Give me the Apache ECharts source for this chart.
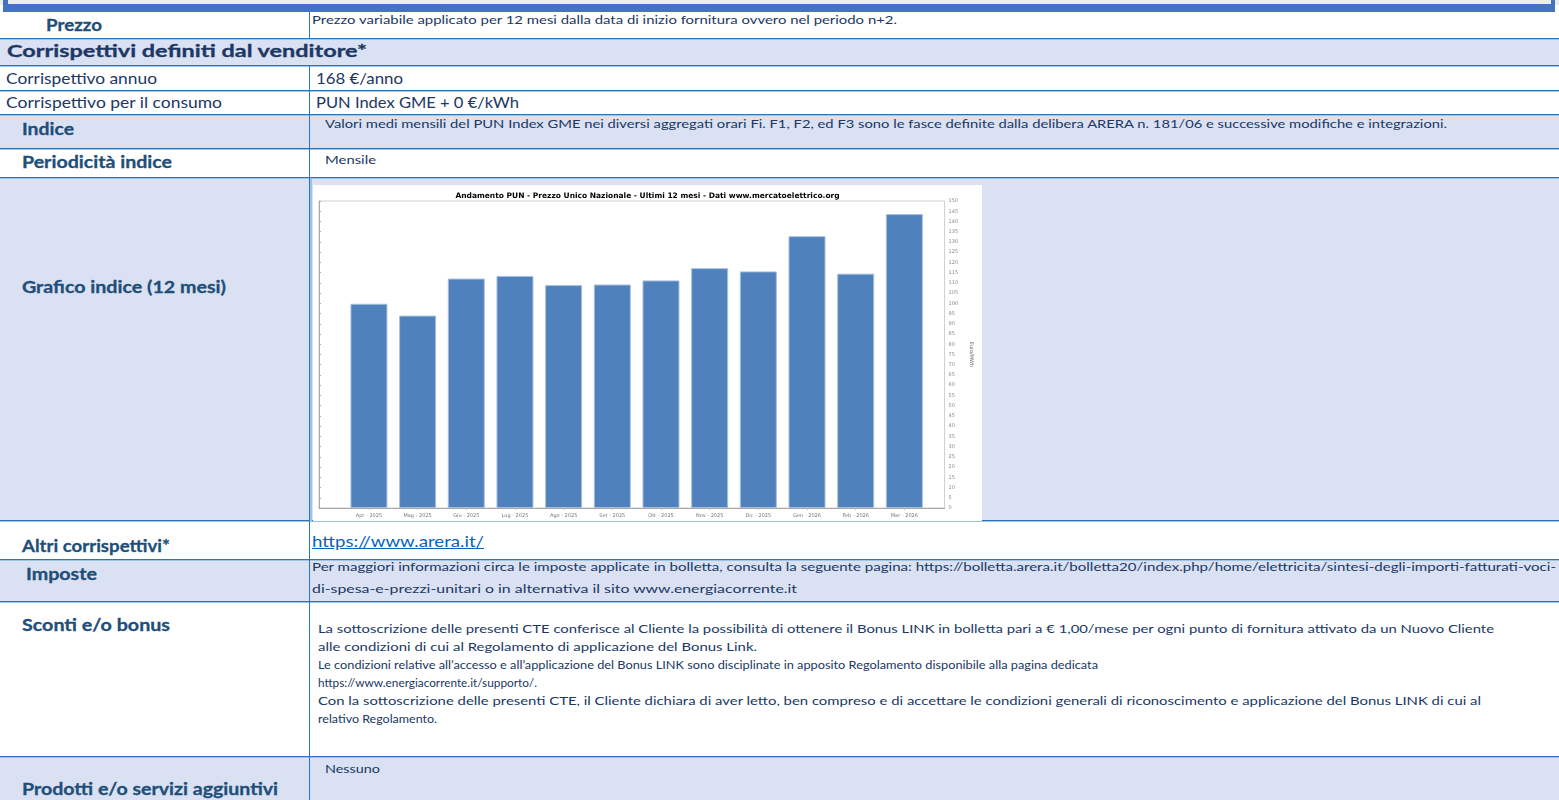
<!DOCTYPE html>
<html><head><meta charset="utf-8">
<script src="https://cdn.jsdelivr.net/npm/echarts@6/dist/echarts.min.js"></script>
<style>
html,body{margin:0;padding:0;width:1559px;height:800px;overflow:hidden;background:#fff;font-family:Lato,'Open Sans',sans-serif;}
.r{position:absolute;}
.t{position:absolute;white-space:nowrap;transform-origin:0 50%;line-height:1;display:inline-block;}
</style></head><body>
<div id="page"></div>
<div id="chart" style="position:absolute;left:313px;top:185px;width:669px;height:336px;background:#fff;"></div>
<script>
// ---- chart data ----
const months = ['Apr - 2025','Mag - 2025','Giu - 2025','Lug - 2025','Ago - 2025','Set - 2025','Ott - 2025','Nov - 2025','Dic - 2025','Gen - 2026','Feb - 2026','Mar - 2026'];
const punValues = [99.8, 94.0, 112.1, 113.4, 108.9, 109.2, 111.2, 117.2, 115.6, 132.8, 114.5, 143.6];
const yMin = 0, yMax = 150, yStep = 5;
const chartTitle = 'Andamento PUN - Prezzo Unico Nazionale - Ultimi 12 mesi - Dati www.mercatoelettrico.org';
const yName = 'Euro/MWh';

// ---- table texts ----
const LBL = '#1f4e79', NAV = '#203764';
const texts = [
  ['Prezzo', 46, 26, 56, 17, 700, LBL],
  ['Prezzo variabile applicato per 12 mesi dalla data di inizio fornitura ovvero nel periodo n+2.', 312, 21, 585, 12, 400, NAV],
  ['Corrispettivi definiti dal venditore*', 7, 52, 360, 17, 700, NAV],
  ['Corrispettivo annuo', 6, 80, 151, 15, 400, NAV],
  ['168 €/anno', 316, 80, 87, 15, 400, NAV],
  ['Corrispettivo per il consumo', 6, 104, 216, 15, 400, NAV],
  ['PUN Index GME + 0 €/kWh', 316, 104, 203, 15, 400, NAV],
  ['Indice', 22, 130, 52, 17, 700, LBL],
  ['Valori medi mensili del PUN Index GME nei diversi aggregati orari Fi. F1, F2, ed F3 sono le fasce definite dalla delibera ARERA n. 181/06 e successive modifiche e integrazioni.', 325, 125, 1122, 12, 400, NAV],
  ['Periodicità indice', 22, 163, 150, 17, 700, LBL],
  ['Mensile', 325, 161, 51, 12, 400, NAV],
  ['Grafico indice (12 mesi)', 22, 288, 204, 17, 700, LBL],
  ['Altri corrispettivi*', 22, 547, 148, 17, 700, LBL],
  ['https://www.arera.it/', 312, 543, 172, 15, 400, '#0563c1', 'u'],
  ['Imposte', 26, 575, 71, 17, 700, LBL],
  ['Per maggiori informazioni circa le imposte applicate in bolletta, consulta la seguente pagina: https://bolletta.arera.it/bolletta20/index.php/home/elettricita/sintesi-degli-importi-fatturati-voci-', 312, 568, 1244, 12, 400, NAV],
  ['di-spesa-e-prezzi-unitari o in alternativa il sito www.energiacorrente.it', 312, 590, 485, 12, 400, NAV],
  ['Sconti e/o bonus', 22, 626, 148, 17, 700, LBL],
  ['La sottoscrizione delle presenti CTE conferisce al Cliente la possibilità di ottenere il Bonus LINK in bolletta pari a € 1,00/mese per ogni punto di fornitura attivato da un Nuovo Cliente', 318, 630, 1176, 12, 400, NAV],
  ['alle condizioni di cui al Regolamento di applicazione del Bonus Link.', 318, 648, 439, 12, 400, NAV],
  ['Le condizioni relative all’accesso e all’applicazione del Bonus LINK sono disciplinate in apposito Regolamento disponibile alla pagina dedicata', 318, 666, 780, 12, 400, NAV],
  ['https://www.energiacorrente.it/supporto/.', 318, 684, 219, 12, 400, NAV],
  ['Con la sottoscrizione delle presenti CTE, il Cliente dichiara di aver letto, ben compreso e di accettare le condizioni generali di riconoscimento e applicazione del Bonus LINK di cui al', 318, 702, 1163, 12, 400, NAV],
  ['relativo Regolamento.', 318, 720, 119, 12, 400, NAV],
  ['Nessuno', 325, 770, 55, 12, 400, NAV],
  ['Prodotti e/o servizi aggiuntivi', 22, 790, 256, 17, 700, LBL]
];

const page = document.getElementById('page');
function box(x, y, w, h, c) {
  const d = document.createElement('div');
  d.className = 'r';
  d.style.cssText = `left:${x}px;top:${y}px;width:${w}px;height:${h}px;background:${c};`;
  page.appendChild(d);
}
// backgrounds
box(0, 0, 1559, 5, '#ececec');
const LIGHT = '#d9e1f2';
[[39, 66], [116, 149], [179, 521], [561, 602], [758, 800]].forEach(([a, b]) => box(0, a, 1559, b - a, LIGHT));
box(5, 4, 1548, 8, '#4472c4');
box(3, 0, 5, 12, '#4472c4');
box(1551, 0, 4, 12, '#4472c4');
// horizontal lines
[38, 65, 90, 114, 148, 177, 520, 559, 601, 756].forEach(y => {
  box(0, y, 1559, 1, '#2e75b6');
  box(0, y + 1, 1559, 1, '#9dc3e6');
});
// vertical divider
box(309, 12, 1, 26, '#2e75b6');
box(309, 66, 1, 734, '#2e75b6');
box(310, 179, 2, 342, '#9dc3e6');

texts.forEach(([s, x, yc, w, fs, fw, col, u]) => {
  const d = document.createElement('span');
  d.className = 't';
  d.textContent = s;
  d.style.cssText = `left:${x}px;top:${yc - 0.57 * fs}px;font-size:${fs}px;font-weight:${fw};color:${col};` +
    (u ? 'text-decoration:underline;' : '') + (fw >= 700 ? '-webkit-text-stroke:0.3px ' + col + ';' : '');
  d.dataset.w = w;
  page.appendChild(d);
});
function fit() {
  document.querySelectorAll('.t').forEach(d => {
    d.style.transform = '';
    const mw = d.getBoundingClientRect().width;
    d.style.transform = `scaleX(${(+d.dataset.w / mw).toFixed(4)})`;
  });
}
fit();
if (document.fonts && document.fonts.ready) document.fonts.ready.then(fit);

// ---- chart ----
const chart = echarts.init(document.getElementById('chart'), null, { renderer: 'canvas' });
const axisGray = '#a8a8a8';
chart.setOption({
  animation: false,
  backgroundColor: '#ffffff',
  title: {
    text: chartTitle, left: 'center', top: 2,
    textStyle: { fontFamily: 'DejaVu Sans', fontSize: 7.5, fontWeight: 'bold', color: '#000' }
  },
  grid: [
    { left: 6, top: 16, width: 634, height: 307, show: true, borderColor: '#cfcfcf', borderWidth: 1, backgroundColor: '#fff' },
    { left: 31.6, top: 16, width: 584.1, height: 307 }
  ],
  xAxis: [
    { gridIndex: 0, type: 'value', min: 0, max: 1, axisLine: { show: true, lineStyle: { color: axisGray } }, axisTick: { show: false }, axisLabel: { show: false }, splitLine: { show: false } },
    { gridIndex: 1, type: 'category', data: months, axisLine: { show: false },
      axisTick: { show: true, alignWithLabel: true, length: 2, lineStyle: { color: '#bbb' } },
      axisLabel: { fontSize: 5, color: '#777', margin: 5, fontFamily: 'DejaVu Sans' } }
  ],
  yAxis: [
    { gridIndex: 0, type: 'value', position: 'right', min: yMin, max: yMax, interval: yStep,
      axisLine: { show: true, lineStyle: { color: axisGray } },
      axisTick: { show: true, length: 2, lineStyle: { color: axisGray } },
      axisLabel: { fontSize: 5, color: '#888', margin: 4, fontFamily: 'DejaVu Sans' },
      splitLine: { show: false },
      name: yName, nameLocation: 'middle', nameRotate: -90, nameGap: 20,
      nameTextStyle: { fontSize: 5, color: '#666', fontFamily: 'DejaVu Sans' } },
    { gridIndex: 1, type: 'value', min: yMin, max: yMax, interval: yStep, show: false }
  ],
  series: [{
    type: 'bar', xAxisIndex: 1, yAxisIndex: 1, data: punValues, barWidth: 37,
    itemStyle: { color: '#4f81bd', borderColor: '#a6bfdf', borderWidth: 1 }
  }]
});
</script>
</body></html>
